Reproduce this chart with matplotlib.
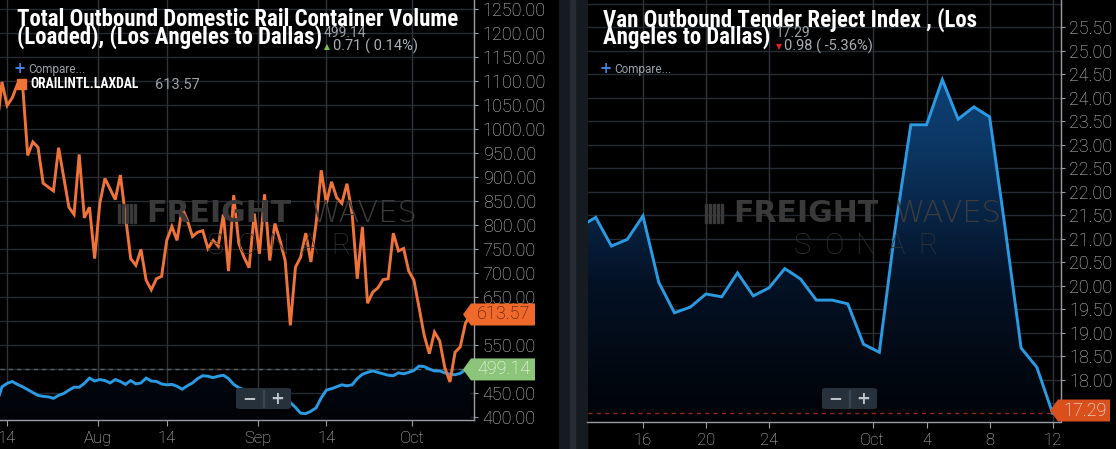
import numpy as np
import pandas as pd
import matplotlib
matplotlib.use('Agg')
import matplotlib.pyplot as plt
import matplotlib.dates as mdates
import matplotlib.font_manager as fm
from matplotlib.patches import Polygon, Rectangle, FancyBboxPatch
from matplotlib.transforms import IdentityTransform
from matplotlib.colors import LinearSegmentedColormap

# ---- data -------------------------------------------------------------
rail_start = '2019-07-12'
# Total outbound domestic rail container volume (blue, filled)
rail_total = [430, 463, 470, 474, 468, 463, 457, 451, 445, 443, 442, 439, 445, 449, 456, 462, 462, 470, 481, 475,
              478, 476, 471, 478, 474, 468, 476, 469, 471, 481, 475, 474, 469, 467, 468, 464, 458, 465, 471, 480,
              486, 485, 482, 485, 487, 480, 468, 461, 457, 455, 452,
              450, 448, 447, 446, 444, 440, 430, 420, 408, 407, 412, 419, 440, 456, 459, 463, 467, 465, 467, 480,
              489, 493, 496, 493, 490, 487, 486, 492, 490, 493,
              497, 506, 505, 500, 496, 496, 492, 489, 488, 491, 498.43, 499.14]
# ORAILINTL.LAXDAL (orange compare series)
rail_intl = [1000, 1098, 1049, 1065, 1093, 1093, 945, 973, 962, 887, 879, 871, 961, 899, 837, 822, 947, 815, 837, 730,
             845, 897, 875, 853, 904, 817, 730, 716, 749, 685, 665, 688, 693, 768, 797, 768, 835, 810, 776, 785,
             788, 751, 768, 756, 822, 704, 862, 761, 733, 711, 824,
             740, 864, 726, 803, 768, 726, 591, 712, 733, 783, 723, 803, 914, 845, 890, 857, 845, 886, 824, 688,
             796, 637, 660, 669, 686, 688, 783, 746, 751, 704,
             685, 628, 570, 532, 577, 559, 503, 473, 535, 546, 595, 613.57]

otri_start = '2019-09-12'
# Van outbound tender reject index
otri = [21.26, 21.46, 20.85, 20.99, 21.49, 20.08, 19.43, 19.55, 19.83, 19.77, 20.28, 19.79, 19.96, 20.37, 20.15,
        19.70, 19.70, 19.62, 18.76, 18.59, 21.2, 23.43, 23.43, 24.39, 23.55, 23.81, 23.60, 21.2, 18.68, 18.27, 17.29]

left_ticks = ['2019-07-14', '2019-08-01', '2019-08-14', '2019-09-01', '2019-09-14', '2019-10-01']
left_ticklabels = ['14', 'Aug', '14', 'Sep', '14', 'Oct']
right_ticks = ['2019-09-16', '2019-09-20', '2019-09-24', '2019-10-01', '2019-10-04', '2019-10-08', '2019-10-12']
right_ticklabels = ['16', '20', '24', 'Oct', '4', '8', '12']

# labels hidden behind the price tags are left out
left_yticks = [v for v in range(400, 1251, 50) if v not in (500, 600)]
right_yticks = [v for v in np.arange(18.0, 25.51, 0.5)]

# ---- fonts / colours ---------------------------------------------------
names = {f.name for f in fm.fontManager.ttflist}
cond = next((n for n in ['Roboto Condensed', 'Liberation Sans Narrow', 'Open Sans Condensed'] if n in names), 'Roboto')
base = 'Roboto' if 'Roboto' in names else 'DejaVu Sans'
plt.rcParams['font.family'] = [base, 'DejaVu Sans']

BG = '#000000'
GRID = '#262b32'
VGRID = '#2e343c'
AXIS = '#9a9ea4'
LABEL = '#c9ccd0'
ORANGE = '#f0733a'
BLUE = '#2a9be3'
W, H = 1116, 449


def fx(px):
    return px / W


def fy(py):
    return 1 - py / H


fig = plt.figure(figsize=(W / 100, H / 100), dpi=100, facecolor=BG)

# divider between the two panels
fig.add_artist(Rectangle((fx(559), 0), fx(28), 1, transform=fig.transFigure, color='#161b21', zorder=0))
fig.add_artist(Rectangle((fx(570), 0), fx(5), 1, transform=fig.transFigure, color='#262c34', zorder=0))

axL = fig.add_axes([0, 1 - 420 / H, 474.3 / W, 420 / H])
axR = fig.add_axes([fx(587.5), 1 - 422 / H, 473 / W, 422 / H])

grad_cmap = LinearSegmentedColormap.from_list('g', ['#010306', '#041226', '#0c3866', '#114a82'])


def style(ax):
    ax.set_facecolor(BG)
    for s in ['left', 'top']:
        ax.spines[s].set_visible(False)
    for s in ['bottom', 'right']:
        ax.spines[s].set_color(AXIS)
        ax.spines[s].set_linewidth(1.0)
    ax.yaxis.tick_right()
    ax.tick_params(axis='y', colors=AXIS, labelcolor=LABEL, length=3, width=0.8, pad=3, labelsize=13)
    ax.tick_params(axis='x', colors=AXIS, labelcolor=LABEL, length=4, width=0.8, pad=4, labelsize=12)


def gradient_fill(ax, x, y, bottom, top):
    poly = ax.fill_between(x, y, bottom, facecolor='none', edgecolor='none')
    path = poly.get_paths()[0]
    grad = np.linspace(0, 1, 256).reshape(-1, 1)
    xl = ax.get_xlim()
    im = ax.imshow(grad, extent=[xl[0], xl[1], bottom, top], origin='lower', aspect='auto',
                   cmap=grad_cmap, zorder=1)
    im.set_clip_path(path, transform=ax.transData)


# ---- left panel --------------------------------------------------------
dL = pd.date_range(rail_start, periods=len(rail_total))
xL = mdates.date2num(dL)
tL = mdates.date2num(pd.to_datetime(left_ticks))
tL = np.where(np.array(left_ticklabels) == '14', tL, tL - 0.35)
x0L = mdates.date2num(pd.Timestamp('2019-07-14'))
limL = (x0L - 1.38, x0L + 90.73)
axL.set_xlim(*limL)
axL.set_ylim(393.75, 1268.75)
style(axL)
axL.set_xticks(tL)
axL.set_xticklabels(left_ticklabels, fontweight='light')
axL.set_yticks(left_yticks)
axL.set_yticklabels(['%.2f' % v for v in left_yticks], fontweight='light')
for v in range(400, 1251, 50):
    axL.axhline(v, color=GRID, lw=1, zorder=0)
for t in tL:
    axL.axvline(t, color=VGRID, lw=1, zorder=0)
gradient_fill(axL, xL, rail_total, 393.75, 1268.75)
axL.set_xlim(*limL)
axL.set_ylim(393.75, 1268.75)
axL.axhline(rail_total[-1], color='#5a5e63', lw=1, ls=(0, (3, 3)), zorder=2)
axL.plot(xL, rail_total, color=BLUE, lw=2.1, zorder=3, solid_joinstyle='miter')
axL.plot(xL, rail_intl, color=ORANGE, lw=2.1, zorder=4, solid_joinstyle='miter')

# ---- right panel -------------------------------------------------------
dR = pd.date_range(otri_start, periods=len(otri))
xR = mdates.date2num(dR)
tR = mdates.date2num(pd.to_datetime(right_ticks))
tR = np.where(np.array(right_ticklabels) == 'Oct', tR - 0.43, tR)
x0R = mdates.date2num(pd.Timestamp('2019-09-16'))
limR = (x0R - 3.52, x0R + 26.5)
axR.set_xlim(*limR)
axR.set_ylim(17.106, 26.085)
style(axR)
axR.set_xticks(tR)
axR.set_xticklabels(right_ticklabels, fontweight='light')
axR.set_yticks(right_yticks)
axR.set_yticklabels(['%.2f' % v for v in right_yticks], fontweight='light')
for v in np.arange(17.5, 26.01, 0.5):
    axR.axhline(v, color=GRID, lw=1, zorder=0)
for t in tR:
    axR.axvline(t, color=VGRID, lw=1, zorder=0)
gradient_fill(axR, xR, otri, 17.106, 26.085)
axR.set_xlim(*limR)
axR.set_ylim(17.106, 26.085)
axR.axhline(otri[-1], color='#8a2a22', lw=1, ls=(0, (3, 3)), zorder=2)
axR.plot(xR, otri, color=BLUE, lw=2.1, zorder=3, solid_joinstyle='miter')

# ---- watermarks --------------------------------------------------------
for x_logo, x_f, x_w, x_s in [(118, 146, 311, 203), (705, 733, 895, 790)]:
    for i in range(5):
        fig.add_artist(Rectangle((fx(x_logo + i * 4), fy(223)), fx(2), 19 / H, transform=fig.transFigure,
                                 color='#3a3a3a', zorder=5))
    fig.text(fx(x_f), fy(213.5), 'FREIGHT', color='#3a3a3a', fontsize=21.5, fontweight='bold',
             family='DejaVu Sans', va='center', ha='left', zorder=5)
    fig.text(fx(x_w), fy(213.5), 'WAVES', color='#3c3c3c', fontsize=22, fontweight=200,
             family='DejaVu Sans', va='center', ha='left', zorder=5)
    for i, ch in enumerate('SONAR'):
        fig.text(fx(x_s + 12 + i * 31.5), fy(246), ch, color='#333333', fontsize=21, fontweight='light',
                 va='center', ha='center', zorder=5)

# ---- zoom buttons ------------------------------------------------------
for bx in [236, 822]:
    fig.add_artist(FancyBboxPatch((fx(bx), fy(409)), fx(55), 21 / H, boxstyle='round,pad=0,rounding_size=0.004',
                                  transform=fig.transFigure, facecolor='#27313c', edgecolor='none', zorder=6))
    fig.add_artist(Rectangle((fx(bx + 27), fy(407)), fx(1), 17 / H, transform=fig.transFigure,
                             color='#3b4653', zorder=7))
    fig.text(fx(bx + 13.5), fy(398.5), '\u2212', color='#c0c5cc', fontsize=12, fontweight='bold',
             ha='center', va='center', zorder=7, family='DejaVu Sans')
    fig.text(fx(bx + 41), fy(398.5), '+', color='#c0c5cc', fontsize=12, fontweight='bold',
             ha='center', va='center', zorder=7, family='DejaVu Sans')


# ---- price tags --------------------------------------------------------
def tag(ax, value, x_tip, x_end, color, text, tcolor, bottom_px):
    y = ax.transData.transform((ax.get_xlim()[0], value))[1]
    y = max(y, bottom_px + 11.5)
    h = 11
    pts = [(x_tip, y), (x_tip + 8, y + h), (x_end, y + h), (x_end, y - h), (x_tip + 8, y - h)]
    fig.add_artist(Polygon(pts, closed=True, transform=IdentityTransform(), facecolor=color,
                           edgecolor='none', zorder=8))
    fig.text((x_tip + 9 + x_end) / 2 / W, y / H, text, color=tcolor, fontsize=13, ha='center', va='center',
             fontweight='light', zorder=9)


tag(axL, rail_intl[-1], 463, 535, '#f0692c', '%.2f' % rail_intl[-1], '#3a1000', H - 420)
tag(axL, rail_total[-1], 463, 535, '#8cc47a', '%.2f' % rail_total[-1], 'white', H - 420)
tag(axR, otri[-1], 1050, 1110, '#d9501c', '%.2f' % otri[-1], 'white', H - 422)

# ---- titles and legends ------------------------------------------------
fig.text(fx(17), fy(26.5), 'Total Outbound Domestic Rail Container Volume', color='white', fontsize=16.5,
         fontweight='bold', family=cond, va='baseline', ha='left', zorder=10)
fig.text(fx(17), fy(43.5), '(Loaded), (Los Angeles to Dallas)', color='white', fontsize=16.5,
         fontweight='bold', family=cond, va='baseline', ha='left', zorder=10)
fig.text(fx(324), fy(37), '499.14', color='#9ba1a8', fontsize=10, va='baseline', ha='left', zorder=10)
fig.text(fx(327), fy(46.5), '\u25b2', color='#7cc04c', fontsize=5.5, va='center', ha='center',
         family='DejaVu Sans', zorder=10)
fig.text(fx(333), fy(51), '0.71 ( 0.14%)', color='#aab0b6', fontsize=10.5, va='baseline', ha='left', zorder=10)

fig.text(fx(603), fy(26.5), 'Van Outbound Tender Reject Index , (Los', color='white', fontsize=16.5,
         fontweight='bold', family=cond, va='baseline', ha='left', zorder=10)
fig.text(fx(603), fy(43.5), 'Angeles to Dallas)', color='white', fontsize=16.5,
         fontweight='bold', family=cond, va='baseline', ha='left', zorder=10)
fig.text(fx(776), fy(37), '17.29', color='#9ba1a8', fontsize=10, va='baseline', ha='left', zorder=10)
fig.text(fx(778.5), fy(46.5), '\u25bc', color='#e0252f', fontsize=5.5, va='center', ha='center',
         family='DejaVu Sans', zorder=10)
fig.text(fx(784), fy(51), '0.98 ( -5.36%)', color='#aab0b6', fontsize=10.5, va='baseline', ha='left', zorder=10)

for px in [17, 603]:
    fig.text(fx(px + 3), fy(69), '+', color='#3f7fe0', fontsize=10.5, fontweight='bold', va='center',
             ha='center', family='DejaVu Sans', zorder=10)
    fig.text(fx(px + 11.5), fy(69.5), 'Compare...', color='#9ba1a8', fontsize=8.5, va='center', ha='left',
             zorder=10)

fig.add_artist(Rectangle((fx(17), fy(88.5)), fx(9), 9.5 / H, transform=fig.transFigure, color=ORANGE, zorder=10))
fig.text(fx(30.5), fy(88.5), 'ORAILINTL.LAXDAL', color='white', fontsize=9.8, fontweight='bold', family=cond,
         va='baseline', ha='left', zorder=10)
fig.text(fx(155), fy(89), '613.57', color='#9ba1a8', fontsize=10.5, va='baseline', ha='left', zorder=10)

fig.savefig('out.png', dpi=100, facecolor=BG)
